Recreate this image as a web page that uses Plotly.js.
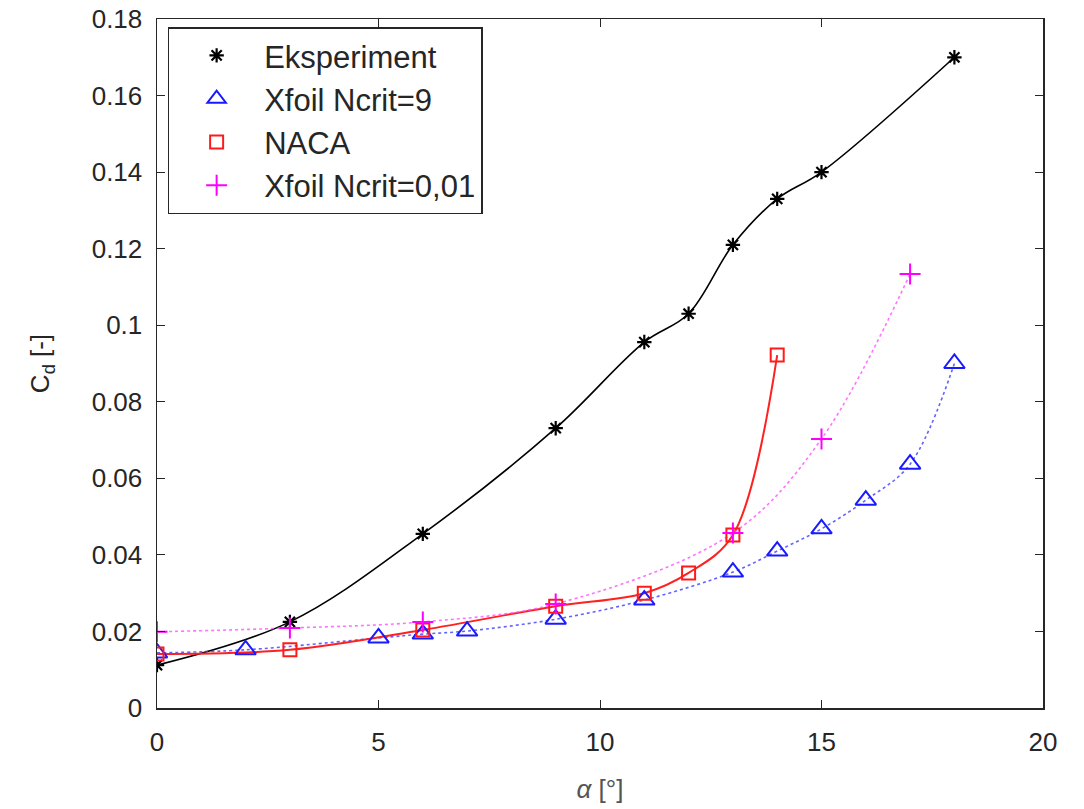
<!DOCTYPE html>
<html>
<head>
<meta charset="utf-8">
<script src="https://cdn.plot.ly/plotly-3.0.1.min.js"></script>
<style>html,body{margin:0;padding:0;background:#fff;}#chart{width:1084px;height:809px;}</style>
</head>
<body>
<div id="chart"></div>
<script>
// Eksperiment
const expAlpha = [0, 3, 6, 9, 11, 12, 13, 14, 15, 18];
const expCd    = [0.0112, 0.0225, 0.0455, 0.0731, 0.0956, 0.103, 0.121, 0.133, 0.140, 0.170];
// Xfoil Ncrit=9
const xf9Alpha = [0, 2, 5, 6, 7, 9, 11, 13, 14, 15, 16, 17, 18];
const xf9Cd    = [0.0144, 0.0152, 0.0183, 0.0193, 0.0201, 0.0232, 0.0282, 0.0355, 0.041, 0.0468, 0.0543, 0.0637, 0.090];
// NACA
const nacaAlpha = [0, 3, 6, 9, 11, 12, 13, 14];
const nacaCd    = [0.0141, 0.0152, 0.0204, 0.0266, 0.0300, 0.0353, 0.0452, 0.0922];
// Xfoil Ncrit=0,01
const xf001Alpha = [0, 3, 6, 9, 13, 15, 17];
const xf001Cd    = [0.0199, 0.0209, 0.0225, 0.0272, 0.0457, 0.0703, 0.1134];

const names = ['Eksperiment', 'Xfoil Ncrit=9', 'NACA', 'Xfoil Ncrit=0,01'];
const xTicks = [0, 5, 10, 15, 20];
const yTicks = [0, 0.02, 0.04, 0.06, 0.08, 0.1, 0.12, 0.14, 0.16, 0.18];

function lineTrace(x, y, color, dash, width) {
  return {x: x, y: y, mode: 'lines', type: 'scatter', showlegend: false, hoverinfo: 'skip',
    line: {color: color, dash: dash, width: width, shape: 'spline', smoothing: 1}};
}
function markTrace(x, y, name, color, symbol, size, lw) {
  return {x: x, y: y, mode: 'markers', type: 'scatter', name: name,
    marker: {symbol: symbol, size: size, color: color, line: {color: color, width: lw}}};
}

const traces = [
  lineTrace(expAlpha, expCd, '#000000', 'solid', 1.6),
  lineTrace(xf9Alpha, xf9Cd, 'rgba(60,60,255,0.8)', 'dot', 1.6),
  lineTrace(nacaAlpha, nacaCd, '#ff2020', 'solid', 2),
  lineTrace(xf001Alpha, xf001Cd, 'rgba(255,80,255,0.8)', 'dot', 1.6),
  markTrace(expAlpha, expCd, names[0], '#000000', 'asterisk-open', 12, 2.2),
  markTrace(xf9Alpha, xf9Cd, names[1], '#1a1aff', 'triangle-up-open', 18, 2),
  markTrace(nacaAlpha, nacaCd, names[2], '#ff1a1a', 'square-open', 13, 2),
  markTrace(xf001Alpha, xf001Cd, names[3], '#ff00ff', 'cross-thin-open', 15, 2)
];

const axisFont = {family: 'Liberation Sans, Arial, sans-serif', size: 26, color: '#262626'};

const layout = {
  width: 1084, height: 809,
  margin: {l: 157, r: 41, t: 19, b: 101},
  paper_bgcolor: '#ffffff', plot_bgcolor: '#ffffff',
  font: axisFont,
  showlegend: true,
  xaxis: {
    range: [0, 20], tickvals: xTicks, ticktext: xTicks.map(String),
    showgrid: false, zeroline: false, showline: true, linecolor: '#262626', linewidth: 1.5,
    mirror: 'ticks', ticks: 'inside', ticklen: 8, tickcolor: '#262626', tickwidth: 1,
    tickfont: axisFont, ticklabelstandoff: 10,
    title: {text: '<i>α</i> [°]', font: {family: 'Liberation Sans, Arial, sans-serif', size: 26, color: '#555555'}, standoff: 24}
  },
  yaxis: {
    range: [0, 0.18], tickvals: yTicks, ticktext: yTicks.map(String),
    showgrid: false, zeroline: false, showline: true, linecolor: '#262626', linewidth: 1.5,
    mirror: 'ticks', ticks: 'inside', ticklen: 8, tickcolor: '#262626', tickwidth: 1,
    tickfont: axisFont, ticklabelstandoff: 8,
    title: {text: 'C<sub>d</sub> [-]', font: {family: 'Liberation Sans, Arial, sans-serif', size: 26, color: '#262626'}, standoff: 34}
  },
  legend: {
    x: 0.012, y: 0.988, xanchor: 'left', yanchor: 'top',
    bgcolor: '#ffffff', bordercolor: '#262626', borderwidth: 1.5,
    font: {family: 'Liberation Sans, Arial, sans-serif', size: 31, color: '#262626'},
    tracegroupgap: 0, itemwidth: 85
  }
};

Plotly.newPlot('chart', traces, layout, {displayModeBar: false, staticPlot: true});
</script>
</body>
</html>
